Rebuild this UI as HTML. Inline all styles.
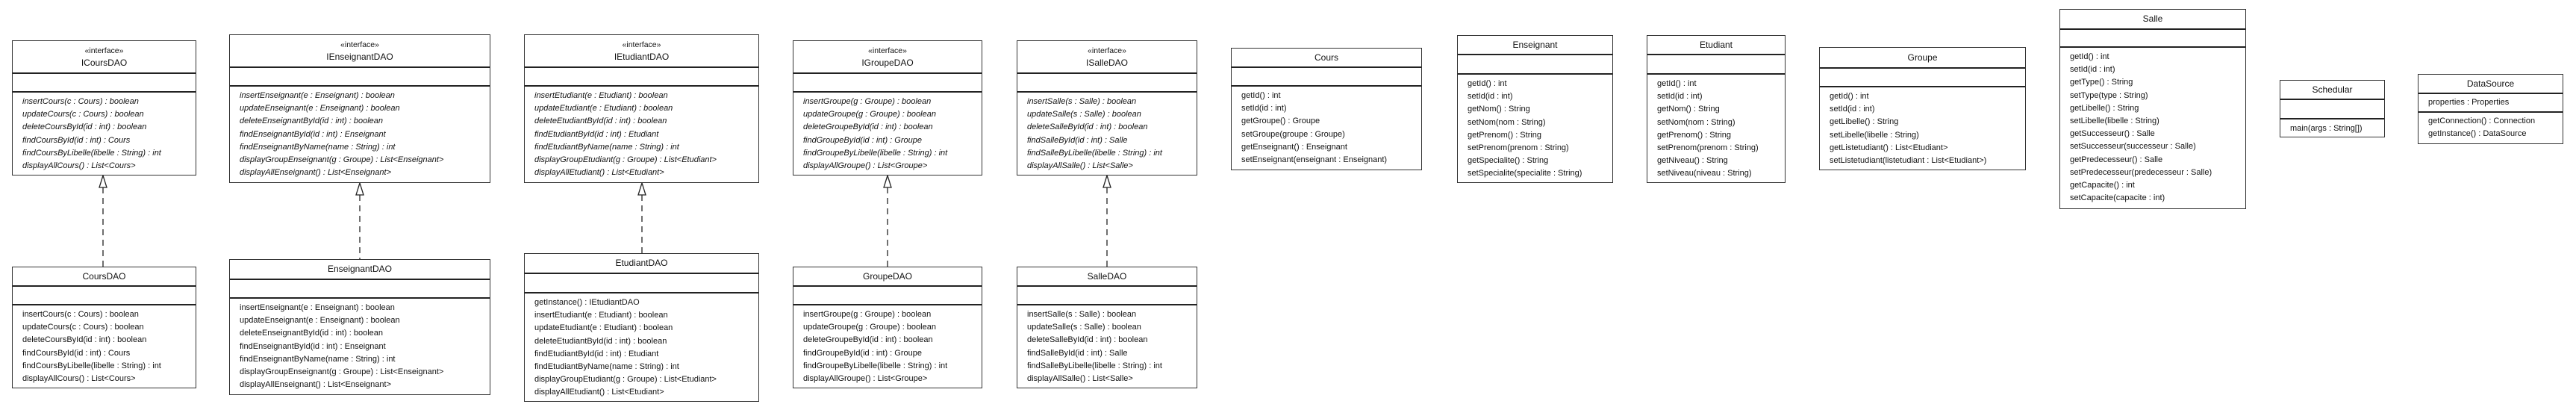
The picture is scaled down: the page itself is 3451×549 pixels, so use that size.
<!DOCTYPE html>
<html><head><meta charset="utf-8"><style>
body{margin:0;width:3451px;height:549px;background:#fff;position:relative;overflow:hidden;font-family:"Liberation Sans",Arial,sans-serif;color:#111}
.b{position:absolute;border:1.5px solid #333;box-sizing:border-box;background:#fff}
.h{border-bottom:2px solid #222;box-sizing:border-box;text-align:center;font-size:12px;display:flex;flex-direction:column;justify-content:center;line-height:17px}
.h .s{font-size:10.5px;line-height:16px}
.a{border-bottom:2px solid #222;box-sizing:border-box;font-size:11px;padding:4px 0 0 13px;line-height:17px}
.m{font-size:11px;line-height:17.2px;padding:4px 0 0 13px;white-space:nowrap}
.i{font-style:italic}
svg{position:absolute;left:0;top:0}
</style></head><body>
<svg width="3451" height="549">
<g stroke="#222" stroke-width="1.3" fill="#fff">
<line x1="138" y1="251" x2="138" y2="357" stroke-dasharray="8,6"/><polygon points="138,235 133,251 143,251"/>
<line x1="482" y1="261" x2="482" y2="347" stroke-dasharray="8,6"/><polygon points="482,245 477,261 487,261"/>
<line x1="860" y1="261" x2="860" y2="339" stroke-dasharray="8,6"/><polygon points="860,245 855,261 865,261"/>
<line x1="1189" y1="251" x2="1189" y2="357" stroke-dasharray="8,6"/><polygon points="1189,235 1184,251 1194,251"/>
<line x1="1483" y1="251" x2="1483" y2="357" stroke-dasharray="8,6"/><polygon points="1483,235 1478,251 1488,251"/>
</g></svg>

<div class="b" style="left:16px;top:54px;width:247px;height:181px">
<div class="h" style="height:44px"><div class="s">«interface»</div><div>ICoursDAO</div></div>
<div class="a" style="height:25px"></div>
<div class="m i">insertCours(c : Cours) : boolean<br>updateCours(c : Cours) : boolean<br>deleteCoursById(id : int) : boolean<br>findCoursById(id : int) : Cours<br>findCoursByLibelle(libelle : String) : int<br>displayAllCours() : List&lt;Cours&gt;</div></div>

<div class="b" style="left:16px;top:357px;width:247px;height:163px">
<div class="h" style="height:26px">CoursDAO</div>
<div class="a" style="height:25px"></div>
<div class="m">insertCours(c : Cours) : boolean<br>updateCours(c : Cours) : boolean<br>deleteCoursById(id : int) : boolean<br>findCoursById(id : int) : Cours<br>findCoursByLibelle(libelle : String) : int<br>displayAllCours() : List&lt;Cours&gt;</div></div>

<div class="b" style="left:307px;top:46px;width:350px;height:199px">
<div class="h" style="height:44px"><div class="s">«interface»</div><div>IEnseignantDAO</div></div>
<div class="a" style="height:25px"></div>
<div class="m i">insertEnseignant(e : Enseignant) : boolean<br>updateEnseignant(e : Enseignant) : boolean<br>deleteEnseignantById(id : int) : boolean<br>findEnseignantById(id : int) : Enseignant<br>findEnseignantByName(name : String) : int<br>displayGroupEnseignant(g : Groupe) : List&lt;Enseignant&gt;<br>displayAllEnseignant() : List&lt;Enseignant&gt;</div></div>

<div class="b" style="left:307px;top:347px;width:350px;height:182px">
<div class="h" style="height:27px">EnseignantDAO</div>
<div class="a" style="height:25px"></div>
<div class="m">insertEnseignant(e : Enseignant) : boolean<br>updateEnseignant(e : Enseignant) : boolean<br>deleteEnseignantById(id : int) : boolean<br>findEnseignantById(id : int) : Enseignant<br>findEnseignantByName(name : String) : int<br>displayGroupEnseignant(g : Groupe) : List&lt;Enseignant&gt;<br>displayAllEnseignant() : List&lt;Enseignant&gt;</div></div>

<div class="b" style="left:702px;top:46px;width:315px;height:199px">
<div class="h" style="height:44px"><div class="s">«interface»</div><div>IEtudiantDAO</div></div>
<div class="a" style="height:25px"></div>
<div class="m i">insertEtudiant(e : Etudiant) : boolean<br>updateEtudiant(e : Etudiant) : boolean<br>deleteEtudiantById(id : int) : boolean<br>findEtudiantById(id : int) : Etudiant<br>findEtudiantByName(name : String) : int<br>displayGroupEtudiant(g : Groupe) : List&lt;Etudiant&gt;<br>displayAllEtudiant() : List&lt;Etudiant&gt;</div></div>

<div class="b" style="left:702px;top:339px;width:315px;height:199px">
<div class="h" style="height:27px">EtudiantDAO</div>
<div class="a" style="height:26px"></div>
<div class="m">getInstance() : IEtudiantDAO<br>insertEtudiant(e : Etudiant) : boolean<br>updateEtudiant(e : Etudiant) : boolean<br>deleteEtudiantById(id : int) : boolean<br>findEtudiantById(id : int) : Etudiant<br>findEtudiantByName(name : String) : int<br>displayGroupEtudiant(g : Groupe) : List&lt;Etudiant&gt;<br>displayAllEtudiant() : List&lt;Etudiant&gt;</div></div>

<div class="b" style="left:1062px;top:54px;width:254px;height:181px">
<div class="h" style="height:44px"><div class="s">«interface»</div><div>IGroupeDAO</div></div>
<div class="a" style="height:25px"></div>
<div class="m i">insertGroupe(g : Groupe) : boolean<br>updateGroupe(g : Groupe) : boolean<br>deleteGroupeById(id : int) : boolean<br>findGroupeById(id : int) : Groupe<br>findGroupeByLibelle(libelle : String) : int<br>displayAllGroupe() : List&lt;Groupe&gt;</div></div>

<div class="b" style="left:1062px;top:357px;width:254px;height:163px">
<div class="h" style="height:26px">GroupeDAO</div>
<div class="a" style="height:25px"></div>
<div class="m">insertGroupe(g : Groupe) : boolean<br>updateGroupe(g : Groupe) : boolean<br>deleteGroupeById(id : int) : boolean<br>findGroupeById(id : int) : Groupe<br>findGroupeByLibelle(libelle : String) : int<br>displayAllGroupe() : List&lt;Groupe&gt;</div></div>

<div class="b" style="left:1362px;top:54px;width:242px;height:181px">
<div class="h" style="height:44px"><div class="s">«interface»</div><div>ISalleDAO</div></div>
<div class="a" style="height:25px"></div>
<div class="m i">insertSalle(s : Salle) : boolean<br>updateSalle(s : Salle) : boolean<br>deleteSalleById(id : int) : boolean<br>findSalleById(id : int) : Salle<br>findSalleByLibelle(libelle : String) : int<br>displayAllSalle() : List&lt;Salle&gt;</div></div>

<div class="b" style="left:1362px;top:357px;width:242px;height:163px">
<div class="h" style="height:26px">SalleDAO</div>
<div class="a" style="height:25px"></div>
<div class="m">insertSalle(s : Salle) : boolean<br>updateSalle(s : Salle) : boolean<br>deleteSalleById(id : int) : boolean<br>findSalleById(id : int) : Salle<br>findSalleByLibelle(libelle : String) : int<br>displayAllSalle() : List&lt;Salle&gt;</div></div>

<div class="b" style="left:1649px;top:64px;width:256px;height:164px">
<div class="h" style="height:26px">Cours</div>
<div class="a" style="height:25px"></div>
<div class="m">getId() : int<br>setId(id : int)<br>getGroupe() : Groupe<br>setGroupe(groupe : Groupe)<br>getEnseignant() : Enseignant<br>setEnseignant(enseignant : Enseignant)</div></div>

<div class="b" style="left:1952px;top:47px;width:209px;height:198px">
<div class="h" style="height:26px">Enseignant</div>
<div class="a" style="height:26px"></div>
<div class="m">getId() : int<br>setId(id : int)<br>getNom() : String<br>setNom(nom : String)<br>getPrenom() : String<br>setPrenom(prenom : String)<br>getSpecialite() : String<br>setSpecialite(specialite : String)</div></div>

<div class="b" style="left:2206px;top:47px;width:186px;height:198px">
<div class="h" style="height:26px">Etudiant</div>
<div class="a" style="height:26px"></div>
<div class="m">getId() : int<br>setId(id : int)<br>getNom() : String<br>setNom(nom : String)<br>getPrenom() : String<br>setPrenom(prenom : String)<br>getNiveau() : String<br>setNiveau(niveau : String)</div></div>

<div class="b" style="left:2437px;top:63px;width:277px;height:165px">
<div class="h" style="height:28px">Groupe</div>
<div class="a" style="height:25px"></div>
<div class="m">getId() : int<br>setId(id : int)<br>getLibelle() : String<br>setLibelle(libelle : String)<br>getListetudiant() : List&lt;Etudiant&gt;<br>setListetudiant(listetudiant : List&lt;Etudiant&gt;)</div></div>

<div class="b" style="left:2759px;top:12px;width:250px;height:268px">
<div class="h" style="height:27px">Salle</div>
<div class="a" style="height:24px"></div>
<div class="m">getId() : int<br>setId(id : int)<br>getType() : String<br>setType(type : String)<br>getLibelle() : String<br>setLibelle(libelle : String)<br>getSuccesseur() : Salle<br>setSuccesseur(successeur : Salle)<br>getPredecesseur() : Salle<br>setPredecesseur(predecesseur : Salle)<br>getCapacite() : int<br>setCapacite(capacite : int)</div></div>

<div class="b" style="left:3054px;top:107px;width:141px;height:77px">
<div class="h" style="height:26px">Schedular</div>
<div class="a" style="height:26px"></div>
<div class="m">main(args : String[])</div></div>

<div class="b" style="left:3239px;top:99px;width:195px;height:94px">
<div class="h" style="height:26px">DataSource</div>
<div class="a" style="height:25px;padding-top:3px">properties : Properties</div>
<div class="m" style="padding-top:3px">getConnection() : Connection<br>getInstance() : DataSource</div></div>
</body></html>
